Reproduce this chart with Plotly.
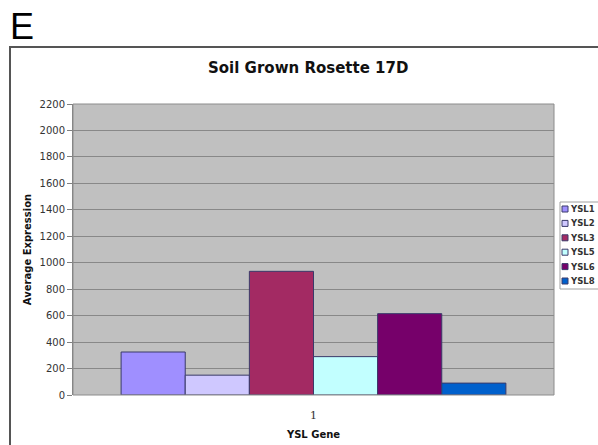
import plotly.graph_objects as go

# Data
genes = ["YSL1", "YSL2", "YSL3", "YSL5", "YSL6", "YSL8"]
expression = [325, 150, 935, 290, 615, 90]
colors = ["#9F8FFF", "#CFC8FF", "#A32A63", "#C2FFFF", "#76006A", "#0060CC"]
category = ["1"]
y_ticks = list(range(0, 2201, 200))

W, H = 598, 445
L, R, T, B = 73, 554, 104, 395  # plot area edges in px


def px_x(px):
    return (px - L) / (R - L)


def px_y(py):
    return (B - py) / (B - T)


fig = go.Figure()
for g, v, c in zip(genes, expression, colors):
    fig.add_trace(go.Bar(
        x=category, y=[v], name=g,
        marker=dict(color=c, line=dict(color="#3A3A6A", width=1)),
        showlegend=False,
    ))

shapes = [
    # outer chart frame
    dict(type="rect", xref="paper", yref="paper",
         x0=px_x(10), x1=px_x(640), y0=px_y(47), y1=px_y(480),
         line=dict(color="#555555", width=2), fillcolor="rgba(0,0,0,0)", layer="below"),
    # plot area border
    dict(type="rect", xref="paper", yref="paper",
         x0=0, x1=1, y0=0, y1=1,
         line=dict(color="#8C8C8C", width=1), fillcolor="rgba(0,0,0,0)", layer="above"),
    # legend box
    dict(type="rect", xref="paper", yref="paper",
         x0=px_x(560), x1=px_x(640), y0=px_y(202), y1=px_y(289),
         line=dict(color="#A0A0A0", width=1), fillcolor="white"),
]

annotations = [
    dict(text="E", xref="paper", yref="paper", x=px_x(8), y=px_y(4),
         xanchor="left", yanchor="top", showarrow=False,
         font=dict(family="Liberation Sans, Arial", size=36, color="black")),
    dict(text="<b>Soil Grown Rosette 17D</b>", xref="paper", yref="paper",
         x=px_x(308), y=px_y(68), xanchor="center", yanchor="middle", showarrow=False,
         font=dict(family="DejaVu Sans, Verdana", size=15, color="#111")),
]

# legend entries
for i, (g, c) in enumerate(zip(genes, colors)):
    cy = 209 + 14.4 * i
    shapes.append(dict(type="rect", xref="paper", yref="paper",
                       x0=px_x(562), x1=px_x(568), y0=px_y(cy - 3), y1=px_y(cy + 3),
                       line=dict(color="#3A3A6A", width=1), fillcolor=c))
    annotations.append(dict(text="<b>" + g + "</b>", xref="paper", yref="paper",
                            x=px_x(568), y=px_y(cy), xanchor="left", yanchor="middle",
                            showarrow=False,
                            font=dict(family="DejaVu Sans, Verdana", size=8.5, color="#333")))

fig.update_layout(
    width=W, height=H,
    margin=dict(l=L, r=W - R, t=T, b=H - B, autoexpand=False),
    paper_bgcolor="white",
    plot_bgcolor="#C0C0C0",
    barmode="group",
    bargap=0.2,
    bargroupgap=0,
    shapes=shapes,
    annotations=annotations,
    xaxis=dict(
        type="category",
        showgrid=False,
        ticks="outside", ticklen=10, tickcolor="rgba(0,0,0,0)",
        tickfont=dict(family="DejaVu Serif, Times New Roman", size=11, color="#333"),
        title=dict(text="<b>YSL Gene</b>", standoff=9,
                   font=dict(family="DejaVu Sans, Verdana", size=10, color="#111")),
    ),
    yaxis=dict(
        range=[0, 2200],
        tickvals=y_ticks,
        ticks="outside", ticklen=5, tickcolor="#808080",
        showline=True, linecolor="#808080", linewidth=1,
        gridcolor="#888888", gridwidth=1,
        zeroline=False,
        tickfont=dict(family="DejaVu Sans, Verdana", size=10, color="#333"),
        title=dict(text="<b>Average Expression</b>", standoff=6,
                   font=dict(family="DejaVu Sans, Verdana", size=10, color="#111")),
    ),
)

fig.write_html("out.html")
